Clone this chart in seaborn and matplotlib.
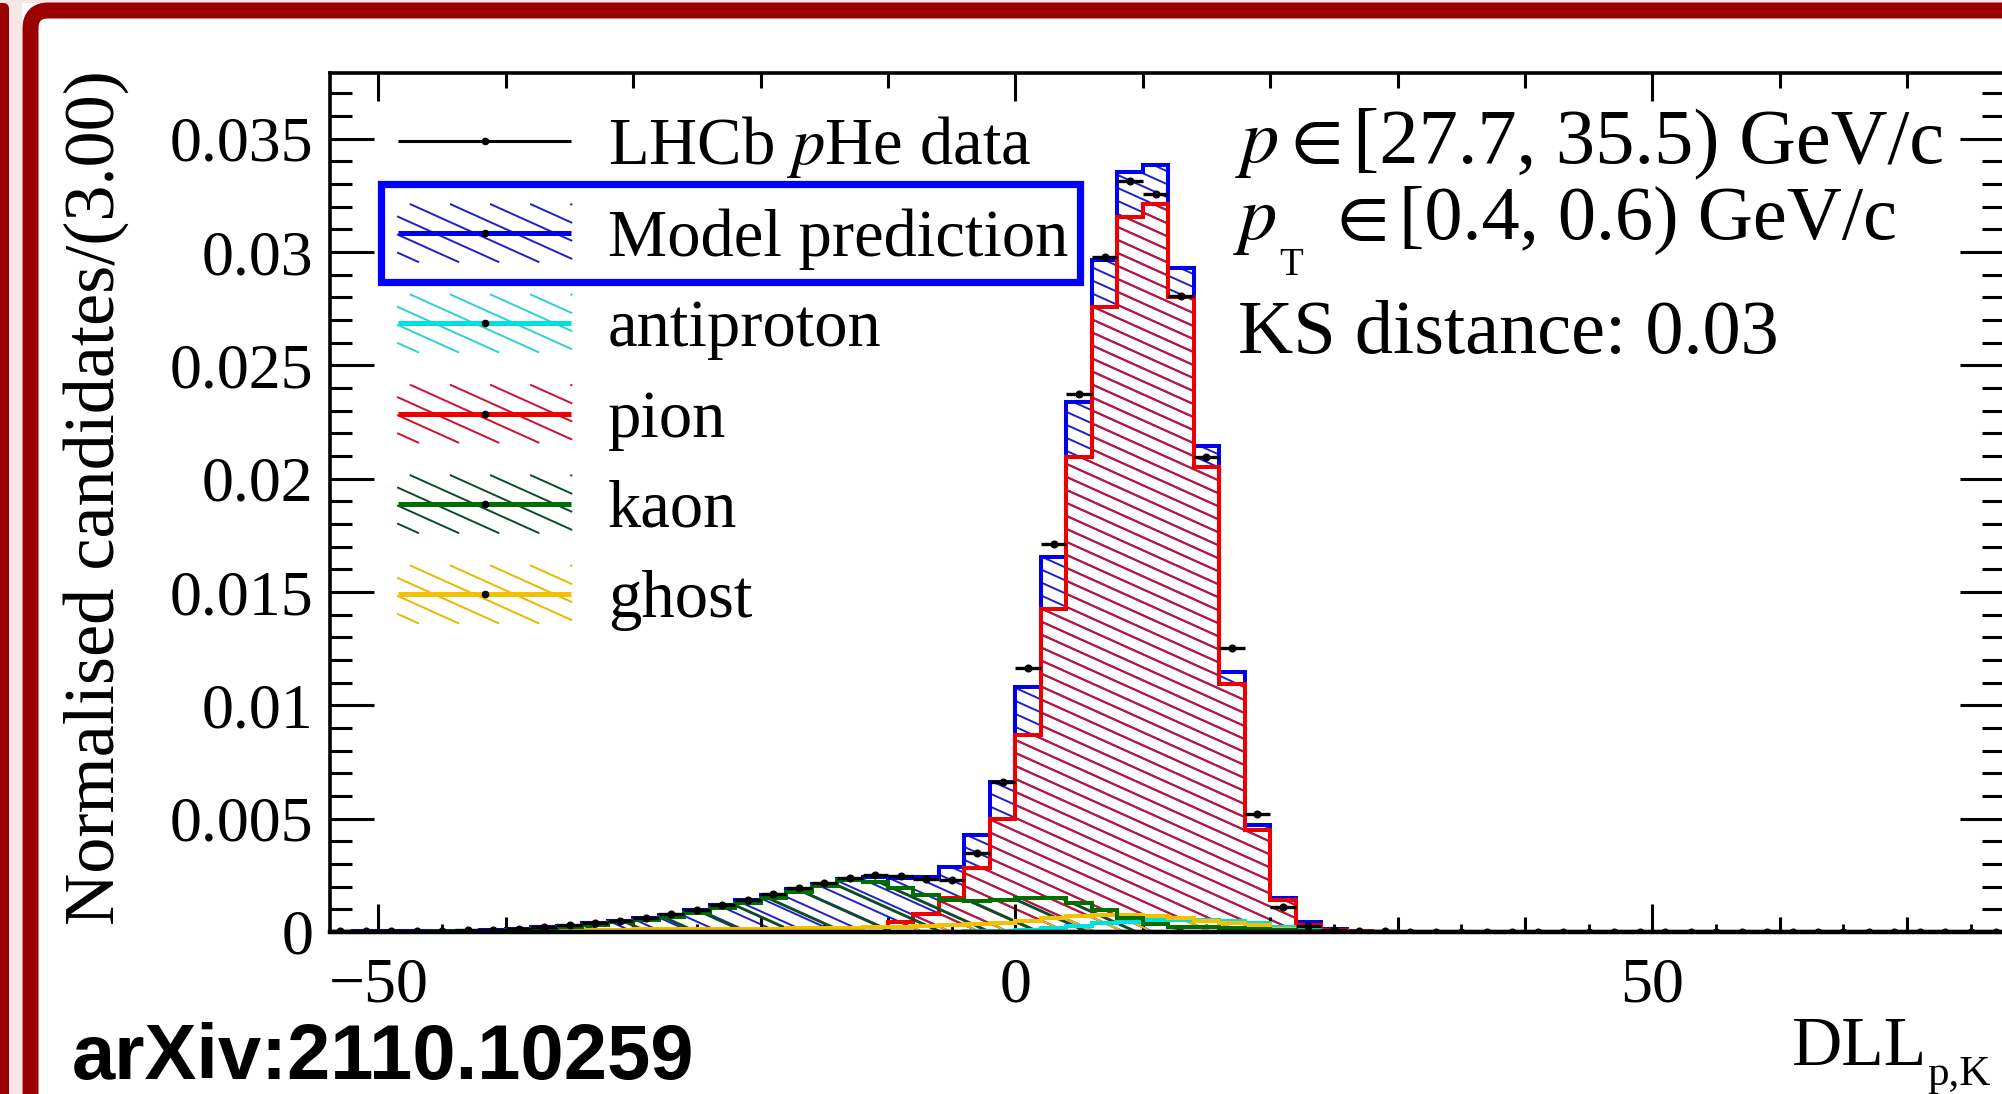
import numpy as np
import seaborn as sns
import matplotlib
matplotlib.use("Agg")
import matplotlib.pyplot as plt
from matplotlib.collections import LineCollection
from matplotlib.legend_handler import HandlerBase
from matplotlib.lines import Line2D
from matplotlib.patches import Rectangle, FancyBboxPatch
from matplotlib.transforms import IdentityTransform
from matplotlib.ticker import MultipleLocator, FuncFormatter

plt.rcParams["font.family"] = ["Liberation Serif", "DejaVu Serif"]
plt.rcParams["mathtext.fontset"] = "stix"

# binning: DLL(p,K) bins of width 2 from -54 to 78
bin_edges = list(range(-54, 80, 2))
bin_centers = [e + 1 for e in bin_edges[:-1]]

data_vals = [
    0.00003, 0.00003, 0.00004, 0.00004, 0.00005, 0.00007, 0.0001, 0.00015, 0.00022, 0.0003,
    0.0004, 0.0005, 0.00062, 0.00078, 0.00098, 0.0012, 0.00143, 0.00167, 0.00192, 0.00216,
    0.00238, 0.00251, 0.00246, 0.00234, 0.00228, 0.00347, 0.00663, 0.01163, 0.01714, 0.02375,
    0.02978, 0.03313, 0.03254, 0.02806, 0.02096, 0.01254, 0.0052, 0.00112, 0.00025, 0.00008,
    0.00004, 0.00003, 0.00002, 0.00002, 0.00002, 0.00001, 0.00001, 0.00001, 0.00001, 0.00001,
    0.00001, 0.0, 0.00001, 0.0, 0.0, 0.00001, 0.0, 0.0, 0.0, 0.0,
    0.0, 0.0, 0.0, 0.0, 0.0, 0.0,
]
model_vals = [
    0.00002, 0.00003, 0.00003, 0.00004, 0.00005, 0.00006, 0.00009, 0.00014, 0.0002, 0.00028,
    0.00038, 0.00048, 0.0006, 0.00076, 0.00095, 0.00117, 0.0014, 0.00164, 0.00189, 0.00212,
    0.00232, 0.00242, 0.0024, 0.00243, 0.00288, 0.00428, 0.00663, 0.01082, 0.01655, 0.02338,
    0.02963, 0.03352, 0.03386, 0.02931, 0.02143, 0.01148, 0.00472, 0.00149, 0.00045, 0.00012,
    0.00004, 0.00002, 0.00002, 0.00001, 0.00001, 0.00001, 0.00001, 0.0, 0.0, 0.0,
    0.0, 0.0, 0.0, 0.0, 0.0, 0.0, 0.0, 0.0, 0.0, 0.0,
    0.0, 0.0, 0.0, 0.0, 0.0, 0.0,
]
pion_vals = [
    0.0, 0.0, 0.0, 0.0, 0.0, 0.0, 0.0, 0.0, 0.0, 0.0,
    0.0, 0.0, 0.0, 0.0, 0.0, 0.00001, 0.00002, 0.00003, 0.00005, 0.00008,
    0.00013, 0.00022, 0.00046, 0.0008, 0.00149, 0.00281, 0.00498, 0.00869, 0.01427, 0.02096,
    0.02757, 0.03154, 0.03213, 0.02801, 0.02052, 0.01096, 0.0045, 0.00141, 0.0003, 0.0001,
    0.00003, 0.0, 0.0, 0.0, 0.0, 0.0, 0.0, 0.0, 0.0, 0.0,
    0.0, 0.0, 0.0, 0.0, 0.0, 0.0, 0.0, 0.0, 0.0, 0.0,
    0.0, 0.0, 0.0, 0.0, 0.0, 0.0,
]
kaon_vals = [
    0.00001, 0.00001, 0.00002, 0.00002, 0.00003, 0.00004, 0.00006, 0.0001, 0.00016, 0.00023,
    0.00032, 0.00042, 0.00053, 0.00068, 0.00086, 0.00106, 0.00128, 0.0015, 0.00178, 0.00205,
    0.0023, 0.0022, 0.00195, 0.00165, 0.00142, 0.00136, 0.0014, 0.0015, 0.0015, 0.00127,
    0.00097, 0.00062, 0.00035, 0.00022, 0.0002, 0.00017, 0.00013, 0.00008, 0.00004, 0.00002,
    0.0, 0.0, 0.0, 0.0, 0.0, 0.0, 0.0, 0.0, 0.0, 0.0,
    0.0, 0.0, 0.0, 0.0, 0.0, 0.0, 0.0, 0.0, 0.0, 0.0,
    0.0, 0.0, 0.0, 0.0, 0.0, 0.0,
]
antiproton_vals = [
    0.0, 0.0, 0.0, 0.0, 0.0, 0.0, 0.0, 0.0, 0.0, 0.0,
    0.0, 0.0, 0.0, 0.0, 0.0, 0.0, 0.0, 0.0, 0.0, 0.0,
    0.0, 0.0, 0.0, 0.0, 0.0, 0.00003, 0.00006, 0.0001, 0.00018, 0.00028,
    0.00038, 0.00046, 0.00052, 0.00055, 0.00053, 0.00047, 0.00038, 0.00022, 0.0001, 0.00004,
    0.00001, 0.0, 0.0, 0.0, 0.0, 0.0, 0.0, 0.0, 0.0, 0.0,
    0.0, 0.0, 0.0, 0.0, 0.0, 0.0, 0.0, 0.0, 0.0, 0.0,
    0.0, 0.0, 0.0, 0.0, 0.0, 0.0,
]
ghost_vals = [
    0.00001, 0.00001, 0.00001, 0.00002, 0.00002, 0.00003, 0.00004, 0.00005, 0.00007, 0.00009,
    0.0001, 0.00011, 0.00012, 0.00013, 0.00013, 0.00014, 0.00015, 0.00015, 0.00016, 0.00017,
    0.00018, 0.0002, 0.00022, 0.00025, 0.0003, 0.00035, 0.0004, 0.0005, 0.0006, 0.0007,
    0.00075, 0.00075, 0.0007, 0.0006, 0.0005, 0.0004, 0.0003, 0.00015, 0.00005, 0.00002,
    0.0, 0.0, 0.0, 0.0, 0.0, 0.0, 0.0, 0.0, 0.0, 0.0,
    0.0, 0.0, 0.0, 0.0, 0.0, 0.0, 0.0, 0.0, 0.0, 0.0,
    0.0, 0.0, 0.0, 0.0, 0.0, 0.0,
]

legend_labels = ["LHCb $p$He data", "Model prediction", "antiproton", "pion", "kaon", "ghost"]

model_color, model_hatch = "#0000ee", "#2020c8"
pion_color, pion_hatch = "#ee0000", "#cc1030"
anti_color, anti_hatch = "#00e0e0", "#30d0d0"
kaon_color, kaon_hatch = "#006f00", "#0b4d2a"
ghost_color, ghost_hatch = "#f5c000", "#e8b800"

W, H = 2002, 1094
AX_L, AX_R, AX_T, AX_B = 330, 2004, 73, 932
AX_W, AX_H = AX_R - AX_L, AX_B - AX_T
SLOPE = 0.45

fig = plt.figure(figsize=(W / 100, H / 100), dpi=100)
fig.patch.set_facecolor("white")
ax = fig.add_axes([AX_L / W, 1 - AX_B / H, AX_W / W, AX_H / H])
ax.set_facecolor("none")


def hatched_hist(vals, color, hatch_color, spacing, hatch_lw, z):
    n0 = len(ax.collections)
    sns.histplot(x=bin_centers, weights=vals, bins=bin_edges, element="step",
                 fill=True, color=color, ax=ax)
    poly = ax.collections[n0]
    poly.set_facecolor("none")
    poly.set_edgecolor(color)
    poly.set_linewidth(2.9)
    poly.set_joinstyle("miter")
    poly.set_zorder(z + 0.5)
    segs = []
    c = spacing * 0.5
    while c < AX_H + SLOPE * AX_W:
        segs.append([(0, c / AX_H), (1, (c - SLOPE * AX_W) / AX_H)])
        c += spacing
    lc = LineCollection(segs, colors=hatch_color, linewidths=hatch_lw,
                        transform=ax.transAxes, zorder=z)
    ax.add_collection(lc, autolim=False)
    lc.set_clip_path(poly.get_paths()[0], poly.get_transform())


hatched_hist(model_vals, model_color, model_hatch, 13.0, 1.4, 1.0)
hatched_hist(pion_vals, pion_color, pion_hatch, 13.0, 1.4, 1.2)
hatched_hist(antiproton_vals, anti_color, anti_hatch, 13.0, 1.4, 1.4)
hatched_hist(ghost_vals, ghost_color, ghost_hatch, 13.0, 1.4, 1.6)
hatched_hist(kaon_vals, kaon_color, kaon_hatch, 22.0, 2.1, 1.8)

ax.errorbar(bin_centers, data_vals, xerr=1.0, fmt="o", color="black", ms=4.8,
            elinewidth=2.4, capsize=0, zorder=5)

ax.set_xlim(-53.8, 77.6)
ax.set_ylim(0, 0.0379)
ax.set_xlabel("")
ax.set_ylabel("")

for s in ax.spines.values():
    s.set_linewidth(2.6)
    s.set_color("black")
ax.spines["bottom"].set_linewidth(3.2)

ax.xaxis.set_major_locator(MultipleLocator(50))
ax.xaxis.set_minor_locator(MultipleLocator(10))
ax.yaxis.set_major_locator(MultipleLocator(0.005))
ax.yaxis.set_minor_locator(MultipleLocator(0.001))
ax.yaxis.set_major_formatter(FuncFormatter(lambda v, p: "0" if abs(v) < 1e-9 else f"{v:g}"))
ax.tick_params(which="both", direction="in", top=True, right=True, width=2.2, colors="black")
ax.tick_params(axis="y", which="major", length=32, labelsize=46, pad=12)
ax.tick_params(axis="y", which="minor", length=16)
ax.tick_params(axis="x", which="major", length=20, labelsize=46, pad=18)
ax.tick_params(axis="x", which="minor", length=11)

sec = ax.secondary_xaxis("bottom")
sec.xaxis.set_major_locator(MultipleLocator(5))
sec.tick_params(direction="in", length=6, width=2.0, labelbottom=False)
sec.spines["bottom"].set_visible(False)


class SymbolHandler(HandlerBase):
    def __init__(self, hatch_color, line_color, line_w, spacing=13.0):
        super().__init__()
        self.hatch_color = hatch_color
        self.line_color = line_color
        self.line_w = line_w
        self.spacing = spacing

    def create_artists(self, legend, orig_handle, xdescent, ydescent,
                       width, height, fontsize, trans):
        x0, y0 = -xdescent, -ydescent
        top = y0 + height
        arts = []
        if self.hatch_color is not None:
            c = y0 + self.spacing * 0.5
            while c < top + SLOPE * width:
                xa = x0 + max(0.0, (c - top) / SLOPE)
                xb = x0 + min(width, (c - y0) / SLOPE)
                if xb > xa:
                    arts.append(Line2D([xa, xb], [c - SLOPE * (xa - x0), c - SLOPE * (xb - x0)],
                                       color=self.hatch_color, lw=1.4))
                c += self.spacing
        ym = y0 + height / 2
        arts.append(Line2D([x0, x0 + width], [ym, ym], color=self.line_color,
                           lw=self.line_w, solid_capstyle="butt"))
        arts.append(Line2D([x0 + width / 2], [ym], marker="o", ms=4.5, color="black", ls="none"))
        for a in arts:
            a.set_transform(trans)
        return arts


handles = [Line2D([], [], color=c) for c in
           ["black", model_color, anti_color, pion_color, kaon_color, ghost_color]]
handler_map = {
    handles[0]: SymbolHandler(None, "black", 2.2),
    handles[1]: SymbolHandler(model_hatch, model_color, 3.6),
    handles[2]: SymbolHandler(anti_hatch, anti_color, 3.6),
    handles[3]: SymbolHandler(pion_hatch, pion_color, 3.6),
    handles[4]: SymbolHandler(kaon_hatch, kaon_color, 3.6),
    handles[5]: SymbolHandler(ghost_hatch, ghost_color, 3.6),
}
ax.legend(handles, legend_labels, handler_map=handler_map, loc="upper left",
          bbox_to_anchor=(398 / W, 1 - 112 / H), bbox_transform=fig.transFigure,
          frameon=False, fontsize=48, handlelength=2.6, handleheight=0.95,
          handletextpad=0.55, labelspacing=0.37, borderpad=0, borderaxespad=0)

# highlight box around the model entry
fig.add_artist(Rectangle((380.5 / W, 1 - 281.5 / H), (1079.5 - 380.5) / W, (281.5 - 184.5) / H,
                         transform=fig.transFigure, fill=False, edgecolor="#0000ff",
                         linewidth=5.2, zorder=10))


def ftext(x, y, s, **kw):
    fig.text(x / W, 1 - y / H, s, **kw)


# info text
ftext(1235, 162, "$p$", fontsize=55, va="baseline")
ftext(1279, 162, r"$\in$", fontsize=55, va="baseline")
ftext(1353, 162, "[27.7, 35.5) GeV/c", fontsize=56.5, va="baseline")
ftext(1233, 239, "$p$", fontsize=55, va="baseline")
ftext(1279, 275, "T", fontsize=28, va="baseline")
ftext(1325, 239, r"$\in$", fontsize=55, va="baseline")
ftext(1399, 239, "[0.4, 0.6) GeV/c", fontsize=55, va="baseline")
ftext(1238, 353, "KS distance: 0.03", fontsize=55, va="baseline")

# axis titles
ftext(114, 70, "Normalised candidates/(3.00)", fontsize=52, rotation=90,
      rotation_mode="anchor", ha="right", va="baseline")
ftext(1792, 1065, "DLL", fontsize=50, va="baseline")
ftext(1927, 1085, "p,K", fontsize=31, va="baseline")

ftext(72, 1079, "arXiv:2110.10259", fontsize=56, fontweight="bold",
      family="Liberation Sans", va="baseline")

# slide frame
dark_red = "#9a0000"
pink = "#f6e6e6"
fig.add_artist(Rectangle((0, 0), 22 / W, 1, transform=fig.transFigure,
                         facecolor=pink, edgecolor="none", zorder=-5))
fig.add_artist(Rectangle((0, 1 - 3 / H), 1, 3 / H, transform=fig.transFigure,
                         facecolor=pink, edgecolor="none", zorder=-5))
fig.add_artist(FancyBboxPatch((-20, -50), 29, H - 3 + 50,
                              boxstyle="round,pad=0,rounding_size=6",
                              transform=IdentityTransform(), facecolor=dark_red,
                              edgecolor="none", zorder=-4))
fig.add_artist(FancyBboxPatch((30.5, -60), 3000, H - 10.5 + 60,
                              boxstyle="round,pad=0,rounding_size=18",
                              transform=IdentityTransform(), fill=False,
                              edgecolor=dark_red, linewidth=11.5, zorder=-4))

fig.savefig("out.png", dpi=100)
